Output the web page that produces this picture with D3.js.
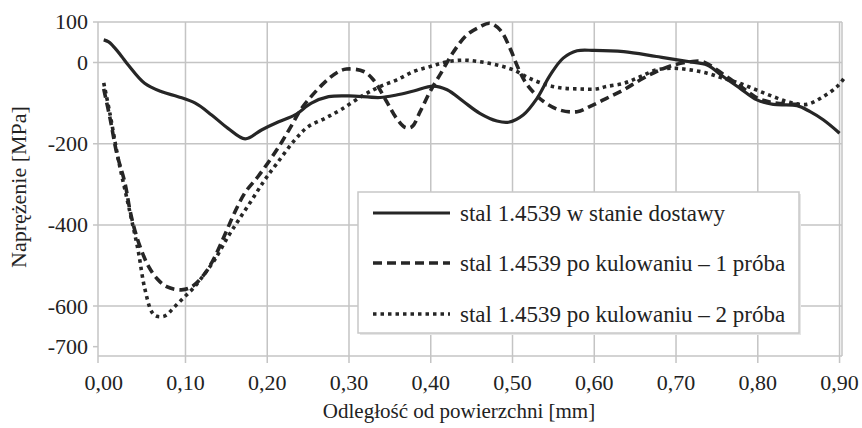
<!DOCTYPE html>
<html>
<head>
<meta charset="utf-8">
<script src="https://cdn.jsdelivr.net/npm/d3@7"></script>
<style>
  body { margin: 0; background: #fff; }
  text { font-family: "Liberation Serif", "DejaVu Serif", serif; fill: #222; }
</style>
</head>
<body>
<script>
// tick labels
var xTicks = [0, 0.1, 0.2, 0.3, 0.4, 0.5, 0.6, 0.7, 0.8, 0.9];
var yTicks = [100, 0, -200, -400, -600, -700];
var yGrid = [100, 0, -200, -400, -600];

// stal 1.4539 w stanie dostawy
var distSolid = [0, 0.006, 0.014, 0.022, 0.03, 0.05, 0.071, 0.091, 0.112, 0.132, 0.152, 0.173, 0.193, 0.214, 0.234, 0.254, 0.275, 0.3, 0.338, 0.358, 0.379, 0.403, 0.42, 0.44, 0.46, 0.481, 0.495, 0.513, 0.53, 0.546, 0.562, 0.579, 0.6, 0.636, 0.676, 0.717, 0.738, 0.758, 0.778, 0.799, 0.819, 0.848, 0.864, 0.88, 0.9];
var stressSolid = [56, 51, 35, 15, -6, -51, -72, -84, -100, -129, -162, -188, -166, -146, -129, -100, -84, -82, -86, -80, -70, -58, -67, -96, -125, -144, -147, -129, -88, -31, 11, 29, 30, 27, 15, 2, -6, -35, -63, -92, -103, -106, -121, -141, -174];

// po kulowaniu - 1 proba
var distDash = [0, 0.008, 0.016, 0.026, 0.032, 0.038, 0.046, 0.055, 0.065, 0.077, 0.095, 0.108, 0.124, 0.136, 0.148, 0.16, 0.173, 0.189, 0.205, 0.218, 0.23, 0.242, 0.267, 0.285, 0.297, 0.318, 0.33, 0.346, 0.358, 0.369, 0.377, 0.387, 0.399, 0.411, 0.428, 0.444, 0.46, 0.472, 0.485, 0.497, 0.507, 0.518, 0.538, 0.558, 0.579, 0.595, 0.615, 0.636, 0.656, 0.676, 0.697, 0.717, 0.733, 0.76, 0.78, 0.8, 0.82, 0.85];
var stressDash = [-65, -140, -224, -297, -363, -413, -462, -503, -532, -552, -560, -552, -519, -478, -425, -370, -320, -280, -235, -195, -154, -113, -55, -25, -16, -22, -43, -96, -137, -160, -158, -121, -72, -31, 27, 68, 88, 97, 80, 35, -14, -55, -96, -117, -121, -108, -88, -67, -43, -22, -6, 2, 2, -32, -60, -88, -99, -103];

// po kulowaniu - 2 proba
var distDot = [0, 0.008, 0.018, 0.03, 0.042, 0.05, 0.059, 0.065, 0.075, 0.087, 0.099, 0.11, 0.124, 0.136, 0.152, 0.165, 0.181, 0.197, 0.212, 0.234, 0.25, 0.271, 0.291, 0.318, 0.338, 0.358, 0.379, 0.399, 0.42, 0.44, 0.46, 0.481, 0.501, 0.521, 0.542, 0.562, 0.583, 0.603, 0.615, 0.636, 0.656, 0.676, 0.697, 0.717, 0.738, 0.758, 0.778, 0.799, 0.819, 0.839, 0.86, 0.88, 0.897, 0.905];
var stressDot = [-50, -130, -240, -350, -462, -555, -615, -625, -624, -601, -577, -555, -519, -485, -429, -388, -339, -289, -248, -190, -158, -137, -115, -80, -59, -43, -22, -10, 2, 6, 2, -6, -18, -39, -55, -63, -65, -65, -59, -51, -35, -18, -14, -18, -26, -39, -51, -68, -84, -98, -103, -84, -59, -40];

var seriesNames = ["stal 1.4539 w stanie dostawy", "stal 1.4539 po kulowaniu \u2013 1 próba", "stal 1.4539 po kulowaniu \u2013 2 próba"];

var w = 862, h = 428;
// note: "top" is taken by window.top, so plot edges get their own names
var plotL = 98, plotR = 842, plotT = 22, plotB = 356;
var ink = "#262626", gridCol = "#c4c4c4";

var x = d3.scaleLinear().domain([-0.007, 0.903]).range([plotL, plotR]);
var y = d3.scaleLinear().domain([-723, 100]).range([plotB, plotT]);

var svg = d3.select("body").append("svg")
  .attr("width", w).attr("height", h);

// grid
var grid = svg.append("g");
grid.selectAll(".hg").data(yGrid).enter().append("line")
  .attr("x1", plotL - 5).attr("x2", plotR)
  .attr("y1", function(d) { return y(d); }).attr("y2", function(d) { return y(d); })
  .attr("stroke", gridCol).attr("stroke-width", 1.5);
// -700 only has a tick
grid.append("line")
  .attr("x1", plotL - 5).attr("x2", plotL)
  .attr("y1", y(-700)).attr("y2", y(-700))
  .attr("stroke", gridCol).attr("stroke-width", 1.5);
grid.selectAll(".vg").data(xTicks.slice(1)).enter().append("line")
  .attr("x1", function(d) { return x(d); }).attr("x2", function(d) { return x(d); })
  .attr("y1", plotT).attr("y2", plotB + 7)
  .attr("stroke", gridCol).attr("stroke-width", 1.5);
// frame
grid.append("line").attr("x1", plotL).attr("x2", plotL).attr("y1", plotT).attr("y2", plotB + 7)
  .attr("stroke", gridCol).attr("stroke-width", 1.5);
grid.append("line").attr("x1", plotR).attr("x2", plotR).attr("y1", plotT).attr("y2", plotB)
  .attr("stroke", gridCol).attr("stroke-width", 1.5);
grid.append("line").attr("x1", plotL).attr("x2", plotR).attr("y1", plotB).attr("y2", plotB)
  .attr("stroke", gridCol).attr("stroke-width", 1.5);

// tick labels
var fmt = function(d) { return d3.format(".2f")(d).replace(".", ","); };
svg.append("g").selectAll("text").data(xTicks).enter().append("text")
  .attr("x", function(d) { return x(d); })
  .attr("y", 390)
  .attr("text-anchor", "middle")
  .style("font-size", "22px")
  .text(fmt);
svg.append("g").selectAll("text").data(yTicks).enter().append("text")
  .attr("x", 88)
  .attr("y", function(d) { return y(d); })
  .attr("dy", "0.34em")
  .attr("text-anchor", "end")
  .style("font-size", "22px")
  .text(function(d) { return d; });

// axis titles
svg.append("text")
  .attr("x", 459).attr("y", 418)
  .attr("text-anchor", "middle")
  .style("font-size", "21px")
  .text("Odległość od powierzchni [mm]");
svg.append("text")
  .attr("transform", "translate(26,187) rotate(-90)")
  .attr("text-anchor", "middle")
  .style("font-size", "22px")
  .text("Naprężenie [MPa]");

// curves
var line = d3.line()
  .x(function(d) { return x(d[0]); })
  .y(function(d) { return y(d[1]); })
  .curve(d3.curveCatmullRom.alpha(0.5));

var series = [
  { xs: distSolid, ys: stressSolid, dash: null, sw: 3.2 },
  { xs: distDash, ys: stressDash, dash: "9,5", sw: 3.6 },
  { xs: distDot, ys: stressDot, dash: "3.5,4", sw: 3.6 }
];

svg.append("g").selectAll("path").data(series).enter().append("path")
  .attr("d", function(s) { return line(s.xs.map(function(v, i) { return [v, s.ys[i]]; })); })
  .attr("fill", "none")
  .attr("stroke", ink)
  .attr("stroke-width", function(s) { return s.sw; })
  .attr("stroke-dasharray", function(s) { return s.dash; });

// legend
var lg = svg.append("g");
lg.append("rect")
  .attr("x", 360).attr("y", 194).attr("width", 441).attr("height", 141)
  .attr("fill", "#e6e6e6");
lg.append("rect")
  .attr("x", 358).attr("y", 192).attr("width", 441).attr("height", 141)
  .attr("fill", "#fff").attr("stroke", "#c8c8c8").attr("stroke-width", 1.5);
var rowY = [213, 263, 314];
var rows = lg.selectAll(".row").data(series).enter().append("g");
rows.append("line")
  .attr("x1", 373).attr("x2", 450)
  .attr("y1", function(d, i) { return rowY[i]; }).attr("y2", function(d, i) { return rowY[i]; })
  .attr("stroke", ink)
  .attr("stroke-width", function(s) { return s.sw; })
  .attr("stroke-dasharray", function(s) { return s.dash; });
rows.append("text")
  .attr("x", 460)
  .attr("y", function(d, i) { return rowY[i]; })
  .attr("dy", "0.34em")
  .style("font-size", "23px")
  .text(function(d, i) { return seriesNames[i]; });
</script>
</body>
</html>
